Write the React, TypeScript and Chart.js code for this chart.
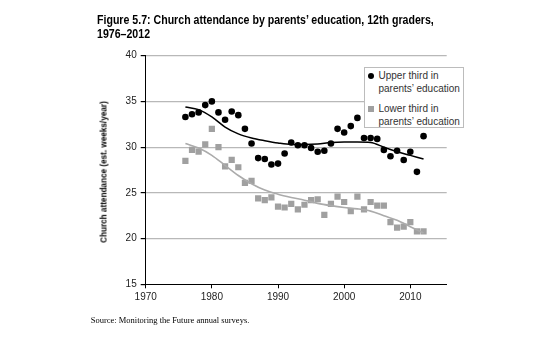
import React, { useEffect, useRef } from "react";
import { Chart, registerables } from "chart.js";

Chart.register(...registerables);

const years = [
  1976, 1977, 1978, 1979, 1980, 1981, 1982, 1983, 1984, 1985, 1986, 1987, 1988,
  1989, 1990, 1991, 1992, 1993, 1994, 1995, 1996, 1997, 1998, 1999, 2000, 2001,
  2002, 2003, 2004, 2005, 2006, 2007, 2008, 2009, 2010, 2011, 2012,
];
const upperThird = [
  33.3, 33.6, 33.8, 34.6, 35.0, 33.8, 33.0, 33.9, 33.5, 32.0, 30.4, 28.8, 28.7,
  28.1, 28.2, 29.3, 30.5, 30.2, 30.2, 29.9, 29.5, 29.6, 30.4, 32.0, 31.6, 32.3,
  33.2, 31.0, 31.0, 30.9, 29.7, 29.0, 29.6, 28.6, 29.5, 27.3, 31.2,
];
const lowerThird = [
  28.5, 29.7, 29.5, 30.3, 32.0, 30.0, 27.9, 28.6, 27.8, 26.1, 26.3, 24.4, 24.2,
  24.5, 23.5, 23.4, 23.8, 23.2, 23.7, 24.2, 24.3, 22.6, 23.8, 24.6, 24.0, 23.0,
  24.6, 23.2, 24.0, 23.6, 23.6, 21.8, 21.2, 21.3, 21.8, 20.8, 20.8,
];
const trendYears = [
  1976, 1978, 1980, 1982, 1984, 1986, 1988, 1990, 1992, 1994, 1996, 1998, 2000,
  2002, 2004, 2006, 2008, 2010, 2012,
];
const upperTrend = [
  34.4, 34.1, 33.3, 32.2, 31.45, 31.0, 30.7, 30.45, 30.3, 30.3, 30.35, 30.5,
  30.55, 30.55, 30.5, 30.0, 29.5, 29.1, 28.7,
];
const lowerTrend = [
  30.4, 29.9, 29.1, 28.0, 26.9, 26.0, 25.3, 24.85, 24.5, 24.2, 23.85, 23.6, 23.4,
  23.25, 23.0, 22.5, 22.0, 21.3, 20.6,
];
const xTicks = [1970, 1980, 1990, 2000, 2010];
const yTicks = [15, 20, 25, 30, 35, 40];

const titleLine1 =
  "Figure 5.7: Church attendance by parents\u2019 education, 12th graders,";
const titleLine2 = "1976\u20132012";
const yTitle = "Church attendance (est. weeks/year)";
const legendUpper = ["Upper third in", "parents\u2019 education"];
const legendLower = ["Lower third in", "parents\u2019 education"];
const sourceText = "Source: Monitoring the Future annual surveys.";

const BLACK = "#000000";
const GREY_PT = "#a0a0a0";
const GREY_LINE = "#ababab";
const SANS = '"Liberation Sans", Arial, sans-serif';

export default function App() {
  const ref = useRef<HTMLCanvasElement>(null);

  useEffect(() => {
    document.body.style.margin = "0";
    const tickFont = { family: SANS, size: 10 };
    const chart = new Chart(ref.current as HTMLCanvasElement, {
      type: "scatter",
      data: {
        datasets: [
          {
            type: "line",
            data: trendYears.map((x, i) => ({ x, y: lowerTrend[i] })),
            borderColor: GREY_LINE,
            borderWidth: 1.6,
            pointRadius: 0,
            cubicInterpolationMode: "monotone",
            fill: false,
          },
          {
            type: "line",
            data: trendYears.map((x, i) => ({ x, y: upperTrend[i] })),
            borderColor: BLACK,
            borderWidth: 1.5,
            pointRadius: 0,
            cubicInterpolationMode: "monotone",
            fill: false,
          },
          {
            data: years.map((x, i) => ({ x, y: lowerThird[i] })),
            pointStyle: "rect",
            pointRadius: 4.4,
            backgroundColor: GREY_PT,
            borderColor: GREY_PT,
            borderWidth: 0,
          },
          {
            data: years.map((x, i) => ({ x, y: upperThird[i] })),
            pointStyle: "circle",
            pointRadius: 3.3,
            backgroundColor: BLACK,
            borderColor: BLACK,
            borderWidth: 0,
          },
        ],
      } as any,
      options: {
        animation: false,
        responsive: false,
        devicePixelRatio: 1,
        layout: { padding: { left: 93, right: 109.3, top: 55.7, bottom: 35.7 } },
        plugins: { legend: { display: false }, tooltip: { enabled: false } },
        scales: {
          x: {
            type: "linear",
            min: 1970,
            max: 2015.5,
            afterBuildTicks: (s: any) => {
              s.ticks = xTicks.map((v) => ({ value: v }));
            },
            afterFit: (s: any) => {
              s.height = 30;
            },
            grid: { drawOnChartArea: false, tickLength: 4, tickColor: BLACK },
            border: { color: BLACK, width: 1 },
            ticks: {
              font: tickFont,
              color: "#222",
              padding: 3,
              maxRotation: 0,
              callback: (v: any) => String(v),
            },
          },
          y: {
            type: "linear",
            min: 15,
            max: 40,
            afterBuildTicks: (s: any) => {
              s.ticks = yTicks.map((v) => ({ value: v }));
            },
            afterFit: (s: any) => {
              s.width = 52.7;
            },
            grid: {
              color: (ctx: any) =>
                ctx.tick && ctx.tick.value === 15 ? "rgba(0,0,0,0)" : "#b8b8b8",
              lineWidth: 1.2,
              tickLength: 5,
              tickColor: BLACK,
            },
            border: { color: BLACK, width: 1 },
            ticks: {
              font: tickFont,
              color: "#222",
              padding: 4,
              callback: (v: any) => String(v),
            },
          },
        },
      } as any,
    });
    return () => chart.destroy();
  }, []);

  const legendText: React.CSSProperties = {
    position: "absolute",
    left: 378.5,
    fontFamily: SANS,
    fontSize: 10,
    lineHeight: "12px",
    color: "#333",
    whiteSpace: "nowrap",
  };

  return (
    <div style={{ position: "relative", width: 556, height: 350, background: "#fff" }}>
      <canvas
        ref={ref}
        width={556}
        height={350}
        style={{ display: "block", width: 556, height: 350 }}
      />
      <div
        style={{
          position: "absolute",
          left: 97,
          top: 12.8,
          fontFamily: SANS,
          fontWeight: "bold",
          fontSize: 13,
          lineHeight: "14px",
          color: "#000",
          whiteSpace: "nowrap",
          transform: "scaleX(0.815)",
          transformOrigin: "0 0",
        }}
      >
        <div>{titleLine1}</div>
        <div>{titleLine2}</div>
      </div>
      <div style={{ position: "absolute", left: 102.8, top: 171.5, width: 0, height: 0 }}>
        <div
          style={{
            position: "absolute",
            left: 0,
            top: 0,
            fontFamily: SANS,
            fontWeight: "bold",
            fontSize: 9.5,
            lineHeight: "11px",
            color: "#000",
            whiteSpace: "nowrap",
            transformOrigin: "0 0",
            transform: "rotate(-90deg) scaleX(0.86) translate(-50%, -50%)",
          }}
        >
          {yTitle}
        </div>
      </div>
      <div
        style={{
          position: "absolute",
          left: 364,
          top: 67,
          width: 98,
          height: 59,
          border: "1px solid #bcbcbc",
          background: "#fff",
        }}
      />
      <div
        style={{
          position: "absolute",
          left: 367.7,
          top: 72.7,
          width: 6.6,
          height: 6.6,
          borderRadius: "50%",
          background: BLACK,
        }}
      />
      <div style={{ ...legendText, top: 70 }}>{legendUpper[0]}</div>
      <div style={{ ...legendText, top: 83 }}>{legendUpper[1]}</div>
      <div
        style={{
          position: "absolute",
          left: 368,
          top: 106,
          width: 6,
          height: 6,
          background: GREY_PT,
        }}
      />
      <div style={{ ...legendText, top: 103 }}>{legendLower[0]}</div>
      <div style={{ ...legendText, top: 116 }}>{legendLower[1]}</div>
      <div
        style={{
          position: "absolute",
          left: 90.7,
          top: 315,
          fontFamily: '"Liberation Serif", "Times New Roman", serif',
          fontSize: 8.5,
          lineHeight: "10px",
          color: "#000",
          whiteSpace: "nowrap",
        }}
      >
        {sourceText}
      </div>
    </div>
  );
}
